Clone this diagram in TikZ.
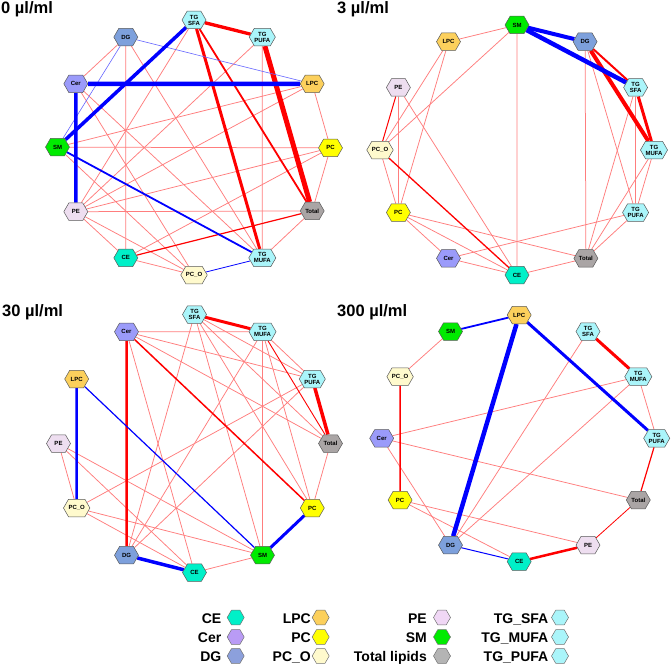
\documentclass[tikz,border=0pt]{standalone}
\usepackage{fontspec}
\setmainfont{Liberation Sans}
\usetikzlibrary{shapes.symbols,shapes.geometric,backgrounds}

\definecolor{ceC}{RGB}{0,240,200}
\definecolor{cerC}{RGB}{155,155,250}
\definecolor{cerK}{RGB}{185,155,245}
\definecolor{dgC}{RGB}{125,160,220}
\definecolor{dgK}{RGB}{140,160,220}
\definecolor{lpcC}{RGB}{252,208,92}
\definecolor{pcC}{RGB}{255,255,0}
\definecolor{pcoC}{RGB}{255,250,205}
\definecolor{peC}{RGB}{238,222,240}
\definecolor{peK}{RGB}{240,215,245}
\definecolor{smC}{RGB}{0,235,0}
\definecolor{totC}{RGB}{170,165,165}
\definecolor{totK}{RGB}{180,180,180}
\definecolor{tgC}{RGB}{170,245,250}
\definecolor{faintC}{RGB}{255,125,125}

\begin{document}
\begin{tikzpicture}[x=1pt, y=-1pt,
  lip/.style={signal, signal to=east and west, signal pointer angle=120,
    draw=black!65, line width=0.5pt, fill=#1, minimum width=24pt,
    minimum height=17.5pt, inner sep=0pt, align=center,
    font=\fontsize{6}{6}\selectfont\bfseries},
  keyhex/.style={regular polygon, regular polygon sides=6, draw=black!55,
    line width=0.5pt, fill=#1, minimum size=17pt, inner sep=0pt},
  keytext/.style={anchor=base east, inner sep=0pt,
    font=\fontsize{14}{14}\selectfont\bfseries},
  paneltitle/.style={anchor=base west, inner sep=0pt,
    font=\fontsize{16.5}{16.5}\selectfont\bfseries},
  faint/.style={draw=faintC, line width=0.75pt},
  poscor/.style={draw=red, line width=#1},
  negcor/.style={draw=blue, line width=#1}]
\useasboundingbox (0,0) rectangle (671,666);

\node[paneltitle] (t0) at (1,13.5) {0 µl/ml};
\node[paneltitle] (t3) at (337,14) {3 µl/ml};
\node[paneltitle] (t30) at (2,316.7) {30 µl/ml};
\node[paneltitle] (t300) at (337,316.5) {300 µl/ml};

\node[lip=tgC] (sfa0) at (194,20) {TG\\SFA};
\node[lip=tgC] (pufa0) at (262.3,37.1) {TG\\PUFA};
\node[lip=lpcC] (lpc0) at (312.2,83.8) {LPC};
\node[lip=pcC] (pc0) at (330.5,147.9) {PC};
\node[lip=totC] (tot0) at (312.2,210.9) {Total};
\node[lip=tgC] (mufa0) at (262.3,257.9) {TG\\MUFA};
\node[lip=pcoC] (pco0) at (194,275) {PC\_O};
\node[lip=ceC] (ce0) at (125.8,257.9) {CE};
\node[lip=peC] (pe0) at (75.8,211.7) {PE};
\node[lip=smC] (sm0) at (57.5,147.1) {SM};
\node[lip=cerC] (cer0) at (75.8,83.8) {Cer};
\node[lip=dgC] (dg0) at (125.8,37.1) {DG};

\node[lip=smC] (sm3) at (517,25) {SM};
\node[lip=dgC] (dg3) at (585.1,41.7) {DG};
\node[lip=tgC] (sfa3) at (635.6,87.5) {TG\\SFA};
\node[lip=tgC] (mufa3) at (654,150) {TG\\MUFA};
\node[lip=tgC] (pufa3) at (635.6,212.5) {TG\\PUFA};
\node[lip=totC] (tot3) at (585.9,258.3) {Total};
\node[lip=ceC] (ce3) at (517,275) {CE};
\node[lip=cerC] (cer3) at (448.5,258.3) {Cer};
\node[lip=pcC] (pc3) at (398.4,212.5) {PC};
\node[lip=pcoC] (pco3) at (380,150) {PC\_O};
\node[lip=peC] (pe3) at (398.4,87.5) {PE};
\node[lip=lpcC] (lpc3) at (448.5,41.7) {LPC};

\node[lip=tgC] (sfa30) at (194.5,314.5) {TG\\SFA};
\node[lip=tgC] (mufa30) at (262.5,331.8) {TG\\MUFA};
\node[lip=tgC] (pufa30) at (312.3,379) {TG\\PUFA};
\node[lip=totC] (tot30) at (330.5,443.5) {Total};
\node[lip=pcC] (pc30) at (312.3,508) {PC};
\node[lip=smC] (sm30) at (262.5,555.2) {SM};
\node[lip=ceC] (ce30) at (194.5,572.5) {CE};
\node[lip=dgC] (dg30) at (126.5,555.2) {DG};
\node[lip=pcoC] (pco30) at (76.7,508) {PC\_O};
\node[lip=peC] (pe30) at (58.5,443.5) {PE};
\node[lip=lpcC] (lpc30) at (76.7,379) {LPC};
\node[lip=cerC] (cer30) at (126.5,331.8) {Cer};

\node[lip=lpcC] (lpc300) at (519.2,315) {LPC};
\node[lip=tgC] (sfa300) at (588,331.5) {TG\\SFA};
\node[lip=tgC] (mufa300) at (638.3,376.7) {TG\\MUFA};
\node[lip=tgC] (pufa300) at (656.7,438.3) {TG\\PUFA};
\node[lip=totC] (tot300) at (638.3,500) {Total};
\node[lip=peC] (pe300) at (588,545.1) {PE};
\node[lip=ceC] (ce300) at (519.2,561.6) {CE};
\node[lip=dgC] (dg300) at (450.5,545.1) {DG};
\node[lip=pcC] (pc300) at (400.1,500) {PC};
\node[lip=cerC] (cer300) at (381.7,438.3) {Cer};
\node[lip=pcoC] (pco300) at (400.1,376.7) {PC\_O};
\node[lip=smC] (sm300) at (450.5,331.5) {SM};

\node[keyhex=ceC] (kce) at (235.7,617.5) {};
\node[keyhex=cerK] (kcer) at (235.7,637) {};
\node[keyhex=dgK] (kdg) at (235.7,656) {};
\node[keyhex=lpcC] (klpc) at (320.7,617.5) {};
\node[keyhex=pcC] (kpc) at (320.7,637) {};
\node[keyhex=pcoC] (kpco) at (320.7,656) {};
\node[keyhex=peK] (kpe) at (442,617.5) {};
\node[keyhex=smC] (ksm) at (442,637) {};
\node[keyhex=totK] (ktot) at (442,656) {};
\node[keyhex=tgC] (ksfa) at (560,617.5) {};
\node[keyhex=tgC] (kmufa) at (560,637) {};
\node[keyhex=tgC] (kpufa) at (560,656) {};

\node[keytext] (lce) at (221.5,623.5) {CE};
\node[keytext] (lcer) at (221.5,642.5) {Cer};
\node[keytext] (ldg) at (221.5,661.5) {DG};
\node[keytext] (llpc) at (311,623.5) {LPC};
\node[keytext] (lpc) at (311,642.5) {PC};
\node[keytext] (lpco) at (311,661.5) {PC\_O};
\node[keytext] (lpe) at (427,623.5) {PE};
\node[keytext] (lsm) at (427,642.5) {SM};
\node[keytext] (ltot) at (427,661.5) {Total lipids};
\node[keytext] (lsfa) at (548.5,623.5) {TG\_SFA};
\node[keytext] (lmufa) at (548.5,642.5) {TG\_MUFA};
\node[keytext] (lpufa) at (548.5,661.5) {TG\_PUFA};

\begin{pgfonlayer}{background}
\fill[white] (0,0) rectangle (671,666);

\path[draw,faint] (dg0) -- (cer0);
\path[draw,faint] (dg0) -- (ce0);
\path[draw,faint] (dg0) -- (mufa0);
\path[draw,faint] (sfa0) -- (pe0);
\path[draw,faint] (pufa0) -- (pe0);
\path[draw,faint] (pufa0) -- (mufa0);
\path[draw,faint] (lpc0) -- (pc0);
\path[draw,faint] (lpc0) -- (sm0);
\path[draw,faint] (lpc0) -- (pe0);
\path[draw,faint] (pc0) -- (sm0);
\path[draw,faint] (pc0) -- (tot0);
\path[draw,faint] (pc0) -- (pe0);
\path[draw,faint] (pc0) -- (ce0);
\path[draw,faint] (tot0) -- (pe0);
\path[draw,faint] (tot0) -- (mufa0);
\path[draw,faint] (cer0) -- (mufa0);
\path[draw,faint] (cer0) -- (pco0);
\path[draw,faint] (sm0) -- (pco0);
\path[draw,faint] (pe0) -- (ce0);
\path[draw,faint] (pe0) -- (pco0);
\path[draw,faint] (ce0) -- (pco0);
\path[draw,poscor=1.2pt] (ce0) -- (tot0);
\path[draw,poscor=1.8pt] (sfa0) -- (tot0);
\path[draw,poscor=3pt] (sfa0) -- (mufa0);
\path[draw,poscor=3.3pt] (sfa0) -- (pufa0);
\path[draw,poscor=5pt] (pufa0) -- (tot0);
\path[draw,negcor=0.6pt,draw=blue!60] (dg0) -- (lpc0);
\path[draw,negcor=0.6pt,draw=blue!60] (dg0) -- (sm0);
\path[draw,negcor=0.8pt] (pco0) -- (mufa0);
\path[draw,negcor=1.8pt] (sm0) -- (mufa0);
\path[draw,negcor=3.5pt] (sm0) -- (sfa0);
\path[draw,negcor=3.5pt] (cer0) -- (pe0);
\path[draw,negcor=4.5pt] (cer0) -- (lpc0);

\path[draw,faint] (sm3) -- (lpc3);
\path[draw,faint] (sm3) -- (pco3);
\path[draw,faint] (sm3) -- (ce3);
\path[draw,faint] (lpc3) -- (pco3);
\path[draw,faint] (lpc3) -- (pc3);
\path[draw,faint] (pe3) -- (pc3);
\path[draw,faint] (pe3) -- (ce3);
\path[draw,faint] (pco3) -- (pc3);
\path[draw,faint] (pc3) -- (cer3);
\path[draw,faint] (pc3) -- (ce3);
\path[draw,faint] (pc3) -- (tot3);
\path[draw,faint] (cer3) -- (ce3);
\path[draw,faint] (cer3) -- (pufa3);
\path[draw,faint] (ce3) -- (tot3);
\path[draw,faint] (dg3) -- (tot3);
\path[draw,faint] (dg3) -- (pufa3);
\path[draw,faint] (sfa3) -- (tot3);
\path[draw,faint] (sfa3) -- (pufa3);
\path[draw,faint] (mufa3) -- (pufa3);
\path[draw,faint] (mufa3) -- (tot3);
\path[draw,faint] (pufa3) -- (tot3);
\path[draw,poscor=1pt] (pe3) -- (pco3);
\path[draw,poscor=1.3pt] (pco3) -- (ce3);
\path[draw,poscor=2pt] (dg3) -- (sfa3);
\path[draw,poscor=3pt] (sfa3) -- (mufa3);
\path[draw,poscor=4pt] (dg3) -- (mufa3);
\path[draw,negcor=4pt] (sm3) -- (dg3);
\path[draw,negcor=4.5pt] (sm3) -- (sfa3);

\path[draw,faint] (cer30) -- (mufa30);
\path[draw,faint] (cer30) -- (pufa30);
\path[draw,faint] (cer30) -- (tot30);
\path[draw,faint] (cer30) -- (ce30);
\path[draw,faint] (sfa30) -- (dg30);
\path[draw,faint] (sfa30) -- (pufa30);
\path[draw,faint] (sfa30) -- (tot30);
\path[draw,faint] (sfa30) -- (pc30);
\path[draw,faint] (sfa30) -- (sm30);
\path[draw,faint] (mufa30) -- (dg30);
\path[draw,faint] (mufa30) -- (pufa30);
\path[draw,faint] (mufa30) -- (pc30);
\path[draw,faint] (mufa30) -- (sm30);
\path[draw,faint] (pufa30) -- (pco30);
\path[draw,faint] (pufa30) -- (dg30);
\path[draw,faint] (tot30) -- (pc30);
\path[draw,faint] (pe30) -- (pco30);
\path[draw,faint] (pe30) -- (sm30);
\path[draw,faint] (pe30) -- (ce30);
\path[draw,faint] (pco30) -- (sm30);
\path[draw,faint] (pco30) -- (ce30);
\path[draw,faint] (ce30) -- (sm30);
\path[draw,poscor=0.9pt] (mufa30) -- (tot30);
\path[draw,poscor=1.5pt] (cer30) -- (pc30);
\path[draw,poscor=2.5pt] (cer30) -- (dg30);
\path[draw,poscor=3pt] (sfa30) -- (mufa30);
\path[draw,poscor=3.5pt] (pufa30) -- (tot30);
\path[draw,negcor=1.2pt] (lpc30) -- (sm30);
\path[draw,negcor=2.5pt] (lpc30) -- (pco30);
\path[draw,negcor=3pt] (pc30) -- (sm30);
\path[draw,negcor=3.5pt] (dg30) -- (ce30);

\path[draw,faint] (sm300) -- (pco300);
\path[draw,faint] (sfa300) -- (dg300);
\path[draw,faint] (mufa300) -- (cer300);
\path[draw,faint] (mufa300) -- (dg300);
\path[draw,faint] (mufa300) -- (pufa300);
\path[draw,faint] (cer300) -- (tot300);
\path[draw,faint] (cer300) -- (dg300);
\path[draw,faint] (pc300) -- (ce300);
\path[draw,faint] (pc300) -- (pe300);
\path[draw,poscor=0.8pt] (tot300) -- (pe300);
\path[draw,poscor=1.2pt] (pufa300) -- (tot300);
\path[draw,poscor=1.5pt] (pco300) -- (pc300);
\path[draw,poscor=2.5pt] (ce300) -- (pe300);
\path[draw,poscor=3pt] (sfa300) -- (mufa300);
\path[draw,negcor=1pt] (dg300) -- (ce300);
\path[draw,negcor=1.8pt] (sm300) -- (lpc300);
\path[draw,negcor=3pt] (lpc300) -- (pufa300);
\path[draw,negcor=4.5pt] (lpc300) -- (dg300);
\end{pgfonlayer}
\end{tikzpicture}
\end{document}
